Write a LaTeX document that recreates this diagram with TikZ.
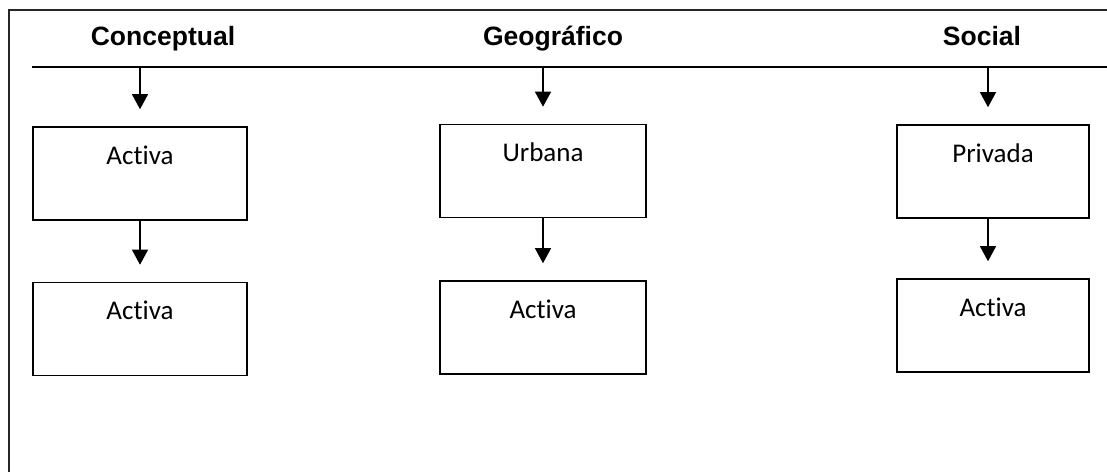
\documentclass[tikz,border=0pt]{standalone}
\usepackage{fontspec}
\setmainfont{Carlito}[Ligatures=NoCommon]
\newfontfamily\headfont{Liberation Sans}
\usetikzlibrary{arrows.meta}

\begin{document}
\begin{tikzpicture}[x=1pt, y=-1pt]

		\tikzstyle{head}=[font=\headfont\bfseries\fontsize{26.5}{30}\selectfont, inner sep=0pt, anchor=base]
		\tikzstyle{caja}=[rectangle, draw, line width=1.6pt, inner ysep=0pt, font=\fontsize{27}{32}\selectfont, text height=37pt, text depth=56pt]
		\tikzstyle{flecha}=[-{Triangle[length=15pt, width=16pt]}, line width=1.2pt, shorten >=17pt]

		\useasboundingbox (0,0) rectangle (1107,472);

		% marco y linea de cabecera
		\draw[line width=1.5pt, black!85] (1107,10) -- (9,10) -- (9,472);
		\coordinate (l0) at (32,67);
		\coordinate (l1) at (1107,67);
		\draw[line width=1.5pt] (l0) -- (l1);

		\node[head] (conc) at (163,45) {Conceptual};
		\node[head] (geo)  at (553,45) {Geográfico};
		\node[head] (soc)  at (982,45) {Social};

		\node[caja, minimum width=214pt] (c1) at (140,173.5) {Activa};
		\node[caja, minimum width=214pt] (c2) at (140,329)   {Activa};

		\node[caja, minimum width=206pt] (g1) at (543,171)   {Urbana};
		\node[caja, minimum width=206pt] (g2) at (543,327.5) {Activa};

		\node[caja, minimum width=192pt] (s1) at (993,171.5) {Privada};
		\node[caja, minimum width=192pt] (s2) at (993,325.5) {Activa};

		% flechas
		\draw[flecha] (l0 -| c1.north) -- (c1.north);
		\draw[flecha] (c1) -- (c2.north);
		\draw[flecha] (l0 -| g1.north) -- (g1.north);
		\draw[flecha] (g1) -- (g2.north);
		\draw[flecha] ([xshift=-5pt]l0 -| s1.north) -- ([xshift=-5pt]s1.north);
		\draw[flecha] ([xshift=-5pt]s1.south) -- ([xshift=-5pt]s2.north);

\end{tikzpicture}
\end{document}
